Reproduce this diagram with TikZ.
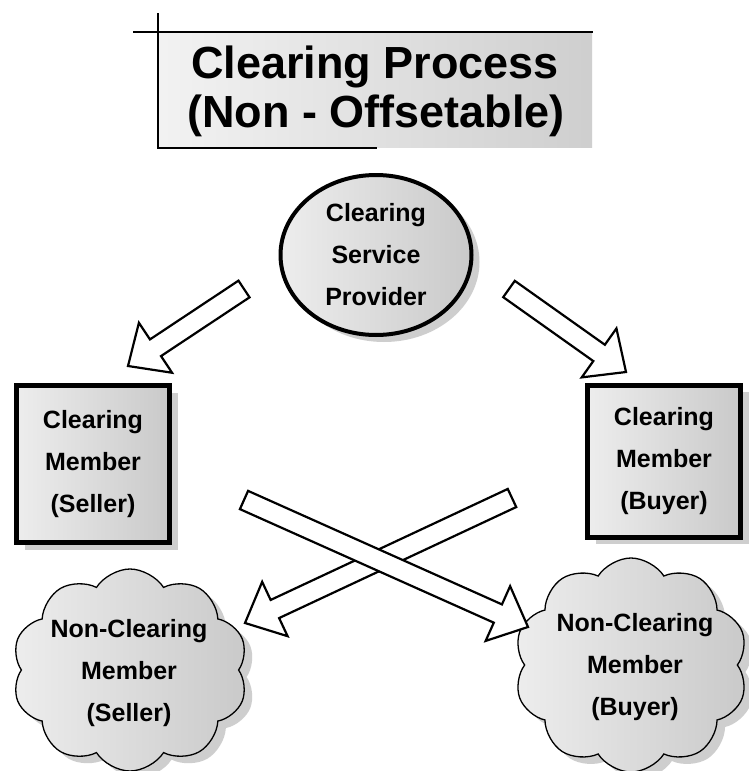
\documentclass[tikz,border=0pt]{standalone}
\usepackage{fontspec}
\setmainfont{Liberation Sans}
\usetikzlibrary{calc,shapes.geometric,shapes.symbols,shadows}

\tikzset{
  shadowed/.style={drop shadow={shadow xshift=8pt,shadow yshift=-7pt,fill=gray!75,opacity=.5}},
  greyfill/.style={left color=gray!14,right color=gray!42},
  lbl/.style={font=\bfseries\fontsize{25}{42}\selectfont,align=center,inner sep=0pt},
  provider/.style={ellipse,draw,line width=4pt,greyfill,shadowed,lbl,minimum width=191pt,minimum height=160pt},
  member/.style={rectangle,draw,line width=5pt,greyfill,shadowed,lbl,minimum width=153pt},
  nonmember/.style={cloud,cloud puffs=10,cloud puff arc=115,cloud ignores aspect,draw,line width=1.3pt,greyfill,shadowed,inner sep=0pt},
  title/.style={font=\bfseries\fontsize{45}{49}\selectfont,inner sep=0pt,anchor=base},
  blockarrow/.style={draw,line width=2.2pt,fill=white,line join=miter,
    to path={let \p1=($(\tikztotarget)!33pt!(\tikztostart)$) in
      ($(\tikztostart)!10pt!90:(\tikztotarget)$)
      -- ($(\p1)!10pt!90:(\tikztotarget)$)
      -- ($(\p1)!30pt!90:(\tikztotarget)$)
      -- (\tikztotarget)
      -- ($(\p1)!30pt!-90:(\tikztotarget)$)
      -- ($(\p1)!10pt!-90:(\tikztotarget)$)
      -- ($(\tikztostart)!10pt!-90:(\tikztotarget)$)
      -- cycle}}
}

\begin{document}
\begin{tikzpicture}[x=1pt,y=-1pt]
\useasboundingbox[fill=white] (0,0) rectangle (749,771);
% title
\fill[left color=gray!10,right color=gray!38] (158,32) rectangle (592,147);
\draw[line width=2pt] (133,32) -- (593,32);
\draw[line width=2pt] (158,13) -- (158,148) -- (377,148);
\node[title] (ttl1) at (375,78) {Clearing Process};
\node[title] (ttl2) at (376,127) {(Non - Offsetable)};
% boxes
\node[provider] (csp) at (376,255) {Clearing\\Service\\Provider};
\node[member,minimum height=157pt] (cms) at (93,464) {Clearing\\Member\\(Seller)};
\node[member,minimum height=152pt] (cmb) at (664,461) {Clearing\\Member\\(Buyer)};
\node[nonmember,minimum width=236pt,minimum height=202pt] (ncms) at (130,670) {};
\node[nonmember,minimum width=234pt,minimum height=214pt] (ncmb) at (631,665) {};
\node[lbl] (ncms-txt) at (129,673) {Non-Clearing\\Member\\(Seller)};
\node[lbl] (ncmb-txt) at (635,667) {Non-Clearing\\Member\\(Buyer)};
% arrows
\coordinate (csp-l) at (244,289);
\coordinate (cms-in) at (128,366);
\coordinate (csp-r) at (509,289);
\coordinate (cmb-in) at (626,372);
\coordinate (cmb-out) at (512,498);
\coordinate (ncms-in) at (245,623);
\coordinate (cms-out) at (244,500);
\coordinate (ncmb-in) at (528,627);
\draw[blockarrow] (csp-l) to (cms-in);
\draw[blockarrow] (csp-r) to (cmb-in);
\draw[blockarrow] (cmb-out) to (ncms-in);
\draw[blockarrow] (cms-out) to (ncmb-in);
\end{tikzpicture}
\end{document}
